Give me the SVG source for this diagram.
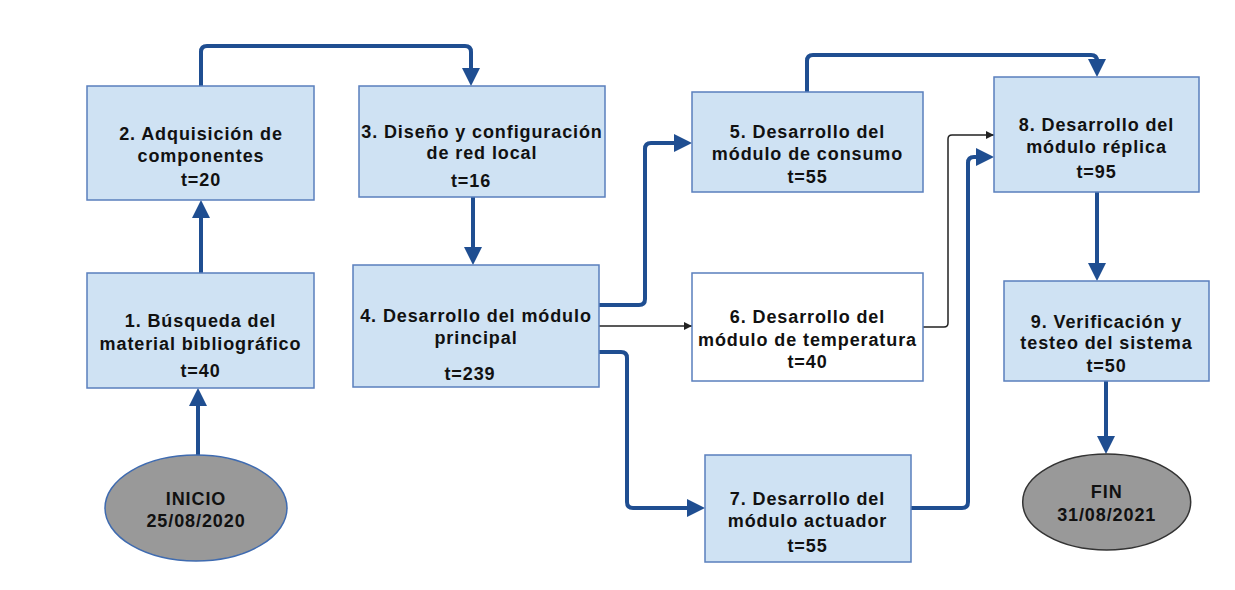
<svg xmlns="http://www.w3.org/2000/svg" width="1235" height="590" viewBox="0 0 1235 590">
<style>
.box{fill:#cfe2f3;stroke:#5a7fbd;stroke-width:1.5}
.wbox{fill:#ffffff;stroke:#5a7fbd;stroke-width:1.5}
.oval{fill:#999999;stroke-width:1.5}
.t{font-family:"Liberation Sans",Arial,sans-serif;font-weight:bold;font-size:18px;letter-spacing:0.9px;fill:#111111;text-anchor:middle}
.bl{fill:none;stroke:#1f4e91;stroke-width:4;marker-end:url(#ab)}
.bk{fill:none;stroke:#222222;stroke-width:1.5;marker-end:url(#ak)}
</style>
<defs>
<marker id="ab" markerUnits="userSpaceOnUse" markerWidth="18" markerHeight="18" refX="8" refY="9" orient="auto" overflow="visible">
<path d="M0,0 L18,9 L0,18 Z" fill="#1f4e91"/>
</marker>
<marker id="ak" markerUnits="userSpaceOnUse" markerWidth="8" markerHeight="8" refX="8" refY="4" orient="auto" overflow="visible">
<path d="M0,0 L8,4 L0,8 Z" fill="#222222"/>
</marker>
</defs>
<rect width="1235" height="590" fill="#ffffff"/>
<g id="connectors">
<path class="bl" d="M198,455 V398"/>
<path class="bl" d="M201,273 V210"/>
<path class="bl" d="M201,86 V52 Q201,46 207,46 H465 Q471,46 471,52 V76"/>
<path class="bl" d="M473,197 V255"/>
<path class="bl" d="M599,305 H639 Q645,305 645,299 V149 Q645,143 651,143 H682"/>
<path class="bk" d="M599,326 H692"/>
<path class="bl" d="M599,352 H621 Q627,352 627,358 V502 Q627,508 633,508 H695"/>
<path class="bl" d="M807,92 V61 Q807,55 813,55 H1091 Q1097,55 1097,61 V67"/>
<path class="bk" d="M923,327 H944 Q948,327 948,323 V139 Q948,135 952,135 H994"/>
<path class="bl" d="M911,508 H962 Q968,508 968,502 V163 Q968,157 974,157 H984"/>
<path class="bl" d="M1097,192 V271"/>
<path class="bl" d="M1106,381 V444"/>
</g>
<g id="inicio">
<ellipse class="oval" cx="196" cy="508" rx="91" ry="53" stroke="#3f6bb0"/>
<text class="t" x="196" y="504.5">INICIO</text>
<text class="t" x="196" y="526.7">25/08/2020</text>
</g>
<g id="n1">
<rect class="box" x="87" y="273" width="227" height="115"/>
<text class="t" x="200.5" y="326.7">1. Búsqueda del</text>
<text class="t" x="200.5" y="350">material bibliográfico</text>
<text class="t" x="200.5" y="376.7">t=40</text>
</g>
<g id="n2">
<rect class="box" x="87" y="86" width="227" height="114"/>
<text class="t" x="201" y="140">2. Adquisición de</text>
<text class="t" x="201" y="161.7">componentes</text>
<text class="t" x="201" y="186">t=20</text>
</g>
<g id="n3">
<rect class="box" x="359" y="86" width="246" height="111"/>
<text class="t" x="482" y="138.3">3. Diseño y configuración</text>
<text class="t" x="482" y="159.3">de red local</text>
<text class="t" x="471" y="186.7">t=16</text>
</g>
<g id="n4">
<rect class="box" x="353" y="265" width="246" height="122"/>
<text class="t" x="476" y="321.7">4. Desarrollo del módulo</text>
<text class="t" x="476" y="344.3">principal</text>
<text class="t" x="470" y="380">t=239</text>
</g>
<g id="n5">
<rect class="box" x="692" y="92" width="231" height="100"/>
<text class="t" x="807.5" y="137.7">5. Desarrollo del</text>
<text class="t" x="807.5" y="160">módulo de consumo</text>
<text class="t" x="807.5" y="182.7">t=55</text>
</g>
<g id="n6">
<rect class="wbox" x="692" y="273" width="231" height="108"/>
<text class="t" x="807.5" y="323.3">6. Desarrollo del</text>
<text class="t" x="807.5" y="346">módulo de temperatura</text>
<text class="t" x="807.5" y="368.3">t=40</text>
</g>
<g id="n7">
<rect class="box" x="705" y="455" width="206" height="107"/>
<text class="t" x="807.5" y="505">7. Desarrollo del</text>
<text class="t" x="807.5" y="527.3">módulo actuador</text>
<text class="t" x="807.5" y="552.3">t=55</text>
</g>
<g id="n8">
<rect class="box" x="994" y="77" width="205" height="115"/>
<text class="t" x="1096.5" y="130.7">8. Desarrollo del</text>
<text class="t" x="1096.5" y="152.7">módulo réplica</text>
<text class="t" x="1096.5" y="177.7">t=95</text>
</g>
<g id="n9">
<rect class="box" x="1004" y="281" width="205" height="100"/>
<text class="t" x="1106.5" y="328">9. Verificación y</text>
<text class="t" x="1106.5" y="348.7">testeo del sistema</text>
<text class="t" x="1106.5" y="372.3">t=50</text>
</g>
<g id="fin">
<ellipse class="oval" cx="1106.7" cy="502" rx="84" ry="48" stroke="#333333"/>
<text class="t" x="1106.7" y="498.3">FIN</text>
<text class="t" x="1106.7" y="520.7">31/08/2021</text>
</g>
</svg>
